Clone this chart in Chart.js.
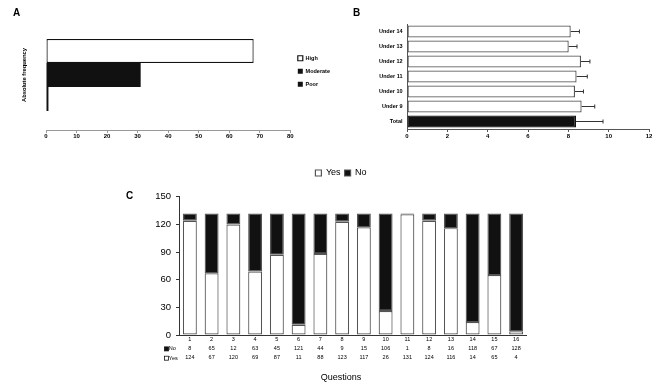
<!DOCTYPE html>
<html><head><meta charset="utf-8">
<script src="https://cdn.jsdelivr.net/npm/chart.js@4.4.1/dist/chart.umd.min.js"></script>
<style>
html,body{margin:0;padding:0;background:#fff;}
#wrap{position:relative;width:669px;height:387px;overflow:hidden;font-family:"Liberation Sans",Arial,sans-serif;}
.box{position:absolute;}
.lab{position:absolute;font-weight:bold;font-size:10px;line-height:10px;color:#000;}
</style></head><body>
<div id="wrap">
<div class="box" style="left:0;top:0;width:340px;height:150px"><canvas id="ca"></canvas></div>
<div class="box" style="left:330px;top:0;width:339px;height:150px"><canvas id="cb"></canvas></div>
<div class="box" style="left:0;top:150px;width:527px;height:237px"><canvas id="cc"></canvas></div>
<div class="lab" style="left:13px;top:8px">A</div>
<div class="lab" style="left:353px;top:8px">B</div>
<div class="lab" style="left:126px;top:191px">C</div>
</div>
<script>
// ---------- data ----------
const freqLabels = ['High', 'Moderate', 'Poor'];
const freqValues = [68, 31, 0.8];

const groups = ['Under 14', 'Under 13', 'Under 12', 'Under 11', 'Under 10', 'Under 9', 'Total'];
const groupMeans = [8.12, 8.02, 8.63, 8.41, 8.33, 8.66, 8.38];
const groupErrors = [0.43, 0.41, 0.44, 0.53, 0.42, 0.65, 1.34];

const questions = ['1','2','3','4','5','6','7','8','9','10','11','12','13','14','15','16'];
const noCounts  = [8, 65, 12, 63, 45, 121, 44, 9, 15, 106, 1, 8, 16, 118, 67, 128];
const yesCounts = [124, 67, 120, 69, 87, 11, 88, 123, 117, 26, 131, 124, 116, 14, 65, 4];

// ---------- common ----------
Chart.defaults.font.family = '"Liberation Sans", Arial, sans-serif';
Chart.defaults.color = '#000';
Chart.defaults.animation = false;
Chart.defaults.plugins.tooltip.enabled = false;

// ---------- Panel A ----------
const fillA = ['#ffffff', '#111111', '#111111'];
new Chart(document.getElementById('ca'), {
  type: 'bar',
  data: {
    labels: [''],
    datasets: freqLabels.map((l, i) => ({
      label: l,
      data: [freqValues[i]],
      backgroundColor: fillA[i],
      borderColor: '#111',
      borderWidth: i === 0 ? 1.2 : 0,
      borderSkipped: false,
      barPercentage: 1,
      categoryPercentage: 0.655
    }))
  },
  options: {
    indexAxis: 'y',
    responsive: true,
    maintainAspectRatio: false,
    layout: { padding: { left: 21, top: 20, right: 0, bottom: 0 } },
    plugins: {
      legend: {
        position: 'right',
        align: 'start',
        title: { display: true, text: '', font: { size: 6, lineHeight: 1 }, padding: 11 },
        labels: { boxWidth: 5, boxHeight: 5, padding: 7.5, font: { size: 5.5, weight: 'bold' }, color: '#000' }
      }
    },
    scales: {
      x: {
        min: 0, max: 80,
        ticks: { stepSize: 10, font: { size: 6, weight: 'bold' }, padding: 0 },
        grid: { display: true, drawOnChartArea: false, tickLength: 3, color: '#999' },
        border: { color: '#999' },
        afterFit: s => { s.height = 20; }
      },
      y: {
        ticks: { display: false },
        grid: { display: false, drawTicks: false },
        border: { display: false },
        title: { display: true, text: 'Absolute frequency', font: { size: 5.8, weight: 'bold' }, padding: 0 },
        afterFit: s => { s.width = 25; }
      }
    }
  }
});

// ---------- Panel B ----------
const errorBars = {
  id: 'errorBars',
  afterDatasetsDraw(chart) {
    const ctx = chart.ctx, xs = chart.scales.x;
    const meta = chart.getDatasetMeta(0);
    ctx.save();
    ctx.strokeStyle = '#333';
    ctx.lineWidth = 1;
    meta.data.forEach((bar, i) => {
      const x0 = bar.x;
      const x1 = xs.getPixelForValue(groupMeans[i] + groupErrors[i]);
      ctx.beginPath();
      ctx.moveTo(x0, bar.y); ctx.lineTo(x1, bar.y);
      ctx.moveTo(x1, bar.y - 2); ctx.lineTo(x1, bar.y + 2);
      ctx.stroke();
    });
    ctx.restore();
  }
};
new Chart(document.getElementById('cb'), {
  type: 'bar',
  data: {
    labels: groups,
    datasets: [{
      label: 'mean',
      data: groupMeans,
      backgroundColor: groups.map((g, i) => i === groups.length - 1 ? '#111' : '#fff'),
      borderColor: groups.map((g, i) => i === groups.length - 1 ? '#111' : '#555'),
      borderWidth: 1.3,
      borderSkipped: false,
      barPercentage: 0.8,
      categoryPercentage: 1
    }]
  },
  options: {
    indexAxis: 'y',
    responsive: true,
    maintainAspectRatio: false,
    layout: { padding: { left: 0, top: 24, right: 20, bottom: 0 } },
    plugins: { legend: { display: false } },
    scales: {
      x: {
        min: 0, max: 12,
        ticks: { stepSize: 2, font: { size: 6, weight: 'bold' }, padding: 1 },
        grid: { display: true, drawOnChartArea: false, tickLength: 3, color: '#555' },
        border: { color: '#555' },
        afterFit: s => { s.height = 21; }
      },
      y: {
        ticks: { font: { size: 5.5, weight: 'bold' }, padding: 4.5 },
        grid: { display: false, drawTicks: false },
        border: { color: '#555' },
        afterFit: s => { s.width = 77; }
      }
    }
  },
  plugins: [errorBars]
});

// ---------- Panel C ----------
const legendGap = {
  id: 'legendGap',
  beforeInit(chart) {
    const lg = chart.legend;
    const orig = lg.fit;
    lg.fit = function () { orig.call(this); this.height += 9.3; };
  }
};
const rowLabels = {
  id: 'rowLabels',
  afterDraw(chart) {
    const ctx = chart.ctx, xs = chart.scales.x;
    const y0 = xs.top;
    ctx.save();
    ctx.font = '5.5px "Liberation Sans", Arial, sans-serif';
    ctx.textBaseline = 'middle';
    const rows = [['No', '#111', 13.9], ['Yes', '#fff', 23.2]];
    rows.forEach(([t, c, dy]) => {
      const y = y0 + dy;
      ctx.fillStyle = c;
      ctx.strokeStyle = '#111';
      ctx.lineWidth = 0.8;
      ctx.fillRect(164.5, y - 2, 4, 4);
      ctx.strokeRect(164.5, y - 2, 4, 4);
      ctx.fillStyle = '#000';
      ctx.fillText(t, 168.8, y);
    });
    ctx.restore();
  }
};
new Chart(document.getElementById('cc'), {
  type: 'bar',
  data: {
    labels: questions,
    datasets: [
      { label: 'Yes', data: yesCounts, backgroundColor: '#fff', borderColor: '#555', borderWidth: 1.2, borderSkipped: false, barPercentage: 0.64, categoryPercentage: 1 },
      { label: 'No', data: noCounts, backgroundColor: '#111', borderColor: '#555', borderWidth: 1.2, borderSkipped: false, barPercentage: 0.64, categoryPercentage: 1 }
    ]
  },
  options: {
    responsive: true,
    maintainAspectRatio: false,
    layout: { padding: { left: 155, top: 14.5, right: 0, bottom: 0 } },
    plugins: {
      legend: {
        position: 'top',
        labels: { boxWidth: 6, boxHeight: 6, padding: 4, font: { size: 9 }, color: '#000' }
      },
      title: {
        display: true, position: 'bottom', text: 'Questions',
        font: { size: 9, weight: 'normal' }, color: '#000',
        padding: { top: 1.6, bottom: 3.6 }
      }
    },
    scales: {
      x: {
        stacked: true,
        ticks: {
          font: { size: 5.5, lineHeight: '9px' }, padding: 0, autoSkip: false, maxRotation: 0,
          callback: (v, i) => [questions[i], String(noCounts[i]), String(yesCounts[i])]
        },
        grid: { display: false, drawTicks: false },
        border: { color: '#333' },
        afterFit: s => { s.height = 36; }
      },
      y: {
        stacked: true,
        min: 0, max: 150,
        ticks: { stepSize: 30, font: { size: 9.5 }, padding: 5 },
        grid: { display: true, drawOnChartArea: false, tickLength: 3, color: '#333' },
        border: { color: '#333' },
        afterFit: s => { s.width = 24; }
      }
    }
  },
  plugins: [legendGap, rowLabels]
});
</script>
</body></html>
